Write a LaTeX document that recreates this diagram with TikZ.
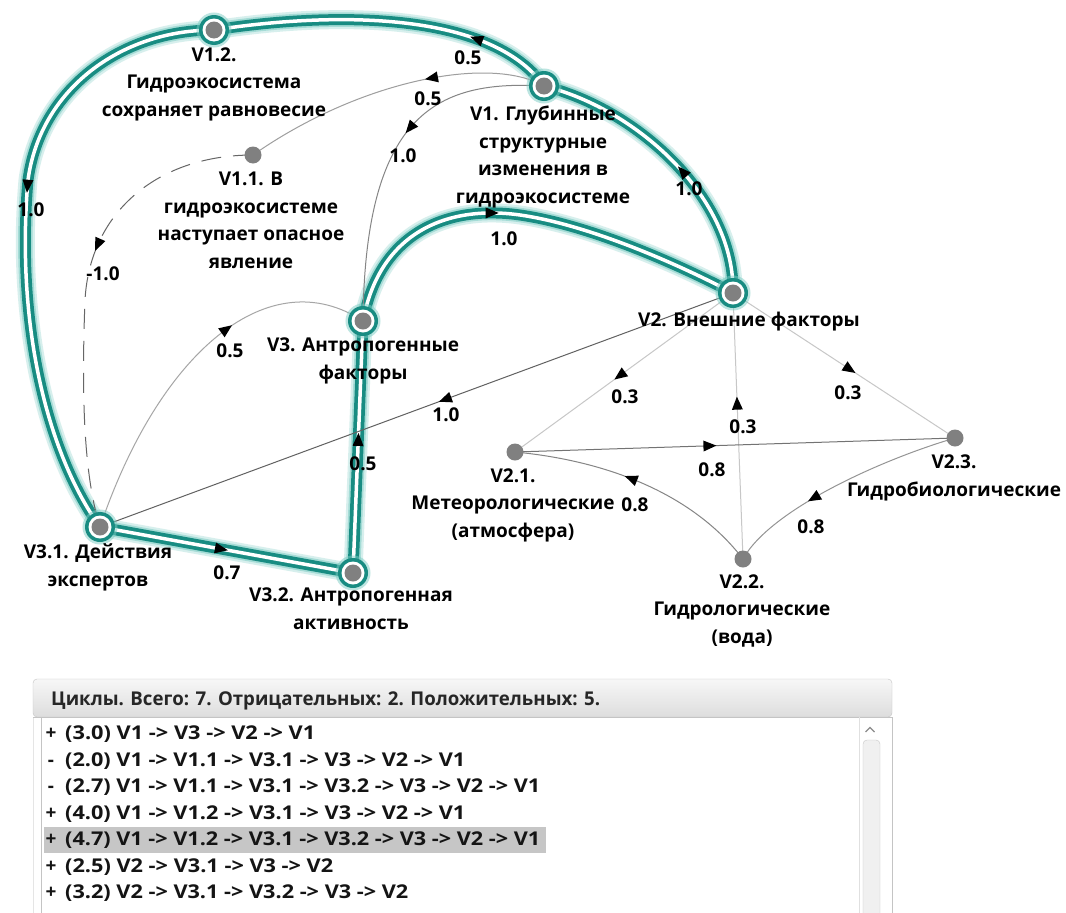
\documentclass[tikz,border=0pt]{standalone}
\usepackage{graphicx}
\usepackage{fontspec}
\setmainfont{Open Sans}
\usetikzlibrary{decorations.markings}

\definecolor{hlteal}{RGB}{24,140,130}
\definecolor{hlglow}{RGB}{125,205,196}
\definecolor{dotgray}{RGB}{128,128,128}
\definecolor{hdtop}{RGB}{247,247,247}
\definecolor{hdbot}{RGB}{221,221,221}
\definecolor{panelline}{RGB}{196,196,196}
\definecolor{selrow}{RGB}{198,198,198}

\pgfdeclarelayer{glow}
\pgfdeclarelayer{band}
\pgfdeclarelayer{core}
\pgfdeclarelayer{fineline}
\pgfsetlayers{glow,band,core,fineline,main}

% small filled triangle used as the direction mark of every edge
\newcommand\dirmark{\fill[black] (6.5pt,0pt) -- (-6.5pt,5.5pt) -- (-6.5pt,-5.5pt) -- cycle;}

\tikzset{
  plaindot/.style={circle, minimum size=17pt, inner sep=0pt, fill=dotgray},
  ringdot/.style={circle, minimum size=30pt, inner sep=0pt, fill=hlteal,
    preaction={draw=hlglow, line width=5pt, opacity=0.5},
    path picture={
      \fill[white] (path picture bounding box.center) circle[radius=11.5pt];
      \fill[dotgray] (path picture bounding box.center) circle[radius=8.5pt];}},
  % anchored at the baseline of the last line
  vlabel/.style={font=\fontsize{19}{27.7}\selectfont\bfseries, align=center,
    inner sep=0pt, anchor=base, text=black},
  wlabel/.style={font=\fontsize{19}{21}\selectfont\bfseries, inner sep=0pt, text=black},
  arrowat/.style={decoration={markings, mark=at position #1 with {\dirmark}},
    postaction={decorate}},
  fine/.style={draw=#1, line width=1pt},
  rowtext/.style={font=\fontsize{19}{21}\selectfont\bfseries, inner sep=0pt,
    anchor=base west, text=black!92},
  signtext/.style={font=\fontsize{19}{21}\selectfont\bfseries, inner sep=0pt,
    anchor=base, text=black!92},
}

% highlighted (cycle) edge: soft glow, teal band, white core with mark
\newcommand\hledge[2]{%
  \begin{pgfonlayer}{glow}
    \draw[hlglow, line width=19pt, opacity=0.3] #1;
    \draw[hlglow, line width=14.5pt, opacity=0.55] #1;
  \end{pgfonlayer}
  \begin{pgfonlayer}{band}
    \draw[hlteal, line width=11pt] #1;
  \end{pgfonlayer}
  \begin{pgfonlayer}{core}
    \draw[white, line width=3.5pt, arrowat=#2] #1;
  \end{pgfonlayer}}

% ordinary edge
\newcommand\fineedge[3]{%
  \begin{pgfonlayer}{fineline}
    \draw[#1, arrowat=#3] #2;
  \end{pgfonlayer}}

\begin{document}
\begin{tikzpicture}[x=1pt, y=-1pt]
\begin{pgfonlayer}{glow}
  \fill[white] (0,0) rectangle (1066,913);
\end{pgfonlayer}
\useasboundingbox (0,0) rectangle (1066,913);

% ---------- vertices ----------
\node[ringdot]  (V12) at (214,30)  {};
\node[ringdot]  (V1)  at (544,86)  {};
\node[plaindot] (V11) at (253,155) {};
\node[ringdot]  (V2)  at (733,293) {};
\node[ringdot]  (V3)  at (363,321) {};
\node[ringdot]  (V31) at (100,527) {};
\node[ringdot]  (V32) at (353,573) {};
\node[plaindot] (V21) at (515,452) {};
\node[plaindot] (V22) at (743,559) {};
\node[plaindot] (V23) at (955,438) {};

% ---------- vertex captions ----------
\node[vlabel] (V12-t) at (214,116.5) {V1.2.\\Гидроэкосистема\\сохраняет равновесие};
\node[vlabel] (V11-t) at (251,268.5) {V1.1. В\\гидроэкосистеме\\наступает опасное\\явление};
\node[vlabel] (V1-t)  at (543,203.5) {V1. Глубинные\\структурные\\изменения в\\гидроэкосистеме};
\node[vlabel] (V2-t)  at (749,326.5) {V2. Внешние факторы};
\node[vlabel] (V3-t)  at (363,379.5) {V3. Антропогенные\\факторы};
\node[vlabel] (V31-t) at (98,586.5)  {V3.1. Действия\\экспертов};
\node[vlabel] (V32-t) at (351,629.5) {V3.2. Антропогенная\\активность};
\node[vlabel] (V21-t) at (513,537.5) {V2.1.\\Метеорологические\\(атмосфера)};
\node[vlabel] (V23-t) at (954,496.5) {V2.3.\\Гидробиологические};
\node[vlabel] (V22-t) at (742,643.5) {V2.2.\\Гидрологические\\(вода)};

% ---------- highlighted cycle edges ----------
\hledge{(V1.center) .. controls (490,10) and (330,12) .. (V12.center)}{0.24}
\hledge{(V12.center) .. controls (120,30) and (40,90) .. (28,180)
        .. controls (16,320) and (45,450) .. (V31.center)}{0.43}
\hledge{(V31.center) -- (V32.center)}{0.48}
\hledge{(V32.center) -- (V3.center)}{0.53}
\hledge{(V3.center) .. controls (380,230) and (450,205) .. (520,215)
        .. controls (590,225) and (680,265) .. (V2.center)}{0.42}
\hledge{(V2.center) .. controls (735,200) and (640,110) .. (V1.center)}{0.45}

% ---------- other edges ----------
\fineedge{fine={black!38}}{(V1.center) .. controls (490,55) and (360,80) .. (V11.center)}{0.37}
\fineedge{fine={black!48}}{(V1.center) .. controls (440,80) and (365,110) .. (V3.center)}{0.42}
\fineedge{fine={black!60}, dash pattern=on 20pt off 12pt}{(V11.center) .. controls (160,155) and (90,210) .. (85,300)
        .. controls (82,380) and (82,470) .. (V31.center)}{0.4}
\fineedge{fine={black!35}}{(V31.center) .. controls (160,350) and (270,260) .. (V3.center)}{0.62}
\fineedge{fine={black!62}}{(V2.center) -- (V31.center)}{0.455}
\fineedge{fine={black!22}}{(V2.center) -- (V21.center)}{0.52}
\fineedge{fine={black!22}}{(V22.center) -- (V2.center)}{0.586}
\fineedge{fine={black!22}}{(V2.center) -- (V23.center)}{0.527}
\fineedge{fine={black!55}}{(V21.center) -- (V23.center)}{0.443}
\fineedge{fine={black!48}}{(V22.center) .. controls (690,490) and (600,460) .. (V21.center)}{0.54}
\fineedge{fine={black!42}}{(V23.center) .. controls (880,460) and (770,510) .. (V22.center)}{0.62}

% ---------- edge weights ----------
\node[wlabel] (w1)  at (468,58)  {0.5};
\node[wlabel] (w2)  at (428,99)  {0.5};
\node[wlabel] (w3)  at (403,156) {1.0};
\node[wlabel] (w4)  at (31,210)  {1.0};
\node[wlabel] (w5)  at (103,274) {-1.0};
\node[wlabel] (w6)  at (689,189) {1.0};
\node[wlabel] (w7)  at (504,239) {1.0};
\node[wlabel] (w8)  at (230,351) {0.5};
\node[wlabel] (w9)  at (446,415) {1.0};
\node[wlabel] (w10) at (363,464) {0.5};
\node[wlabel] (w11) at (227,573) {0.7};
\node[wlabel] (w12) at (625,397) {0.3};
\node[wlabel] (w13) at (743,427) {0.3};
\node[wlabel] (w14) at (848,393) {0.3};
\node[wlabel] (w15) at (712,470) {0.8};
\node[wlabel] (w16) at (635,505) {0.8};
\node[wlabel] (w17) at (811,527) {0.8};

% ---------- cycle list panel ----------
\draw[black!10] (33,717) -- (33,913);
\shade[top color=hdtop, bottom color=hdbot, draw=panelline, rounded corners=4pt]
  (33,679) rectangle (892,717);
\draw[panelline] (33,717) -- (892,717);
\draw[panelline] (41,717) -- (41,913);
\draw[panelline] (892,717) -- (892,913);
\fill[selrow] (44,827) rectangle (546,853);
% scroll bar
\draw[black!12] (859,717) -- (859,913);
\draw[black!22, fill=black!6, rounded corners=4pt] (863,740) rectangle (880,925);
\draw[black!45, line width=1.2pt] (865.5,732) -- (870,727.5) -- (874.5,732);

\node[rowtext, text=black!85] (hdr) at (51,705.5)
  {\resizebox{549pt}{\height}{Циклы. Всего: 7. Отрицательных: 2. Положительных: 5.}};

\node[signtext] (s1) at (51,739.5) {+};
\node[signtext] (s2) at (51,766)   {-};
\node[signtext] (s3) at (51,792.5) {-};
\node[signtext] (s4) at (51,819)   {+};
\node[signtext] (s5) at (51,845.5) {+};
\node[signtext] (s6) at (51,872)   {+};
\node[signtext] (s7) at (51,898.5) {+};
\node[rowtext] (r1) at (65,739.5) {\resizebox{250pt}{\height}{(3.0) V1 -> V3 -> V2 -> V1}};
\node[rowtext] (r2) at (65,766)   {\resizebox{400pt}{\height}{(2.0) V1 -> V1.1 -> V3.1 -> V3 -> V2 -> V1}};
\node[rowtext] (r3) at (65,792.5) {\resizebox{475pt}{\height}{(2.7) V1 -> V1.1 -> V3.1 -> V3.2 -> V3 -> V2 -> V1}};
\node[rowtext] (r4) at (65,819)   {\resizebox{400pt}{\height}{(4.0) V1 -> V1.2 -> V3.1 -> V3 -> V2 -> V1}};
\node[rowtext] (r5) at (65,845.5) {\resizebox{475pt}{\height}{(4.7) V1 -> V1.2 -> V3.1 -> V3.2 -> V3 -> V2 -> V1}};
\node[rowtext] (r6) at (65,872)   {\resizebox{268pt}{\height}{(2.5) V2 -> V3.1 -> V3 -> V2}};
\node[rowtext] (r7) at (65,898.5) {\resizebox{343pt}{\height}{(3.2) V2 -> V3.1 -> V3.2 -> V3 -> V2}};
\end{tikzpicture}
\end{document}
